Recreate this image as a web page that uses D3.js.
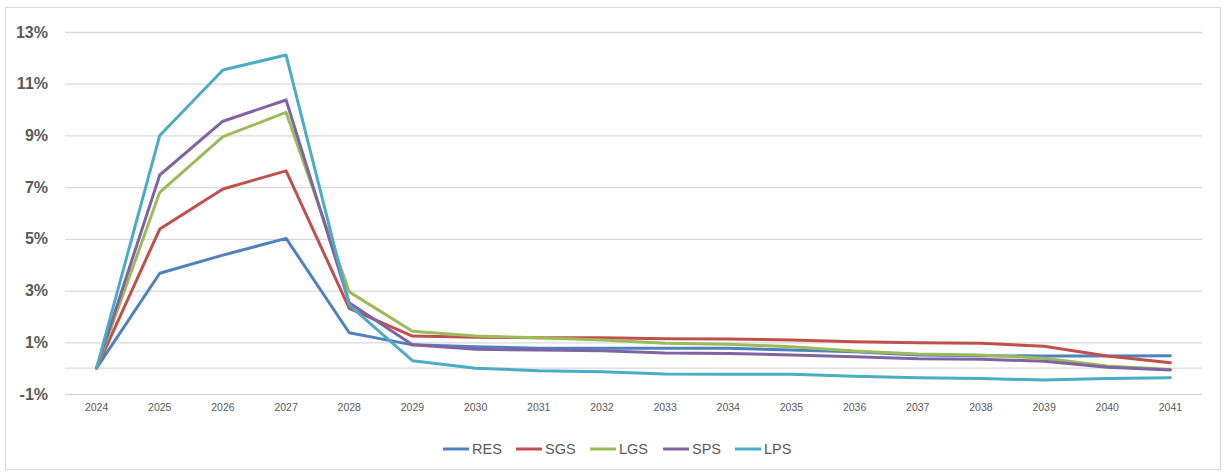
<!DOCTYPE html>
<html>
<head>
<meta charset="utf-8">
<script src="https://cdn.jsdelivr.net/npm/d3@7"></script>
<style>
  html, body { margin: 0; padding: 0; background: #fff; }
  svg { display: block; }
</style>
</head>
<body>
<svg id="chart" width="1226" height="472"></svg>
<script>
// Annual growth rates (%) by customer class
const years = ["2024","2025","2026","2027","2028","2029","2030","2031","2032","2033","2034","2035","2036","2037","2038","2039","2040","2041"];
const RES = [0, 3.67, 4.37, 5.02, 1.37, 0.90, 0.83, 0.77, 0.77, 0.77, 0.77, 0.70, 0.63, 0.51, 0.48, 0.47, 0.47, 0.48];
const SGS = [0, 5.38, 6.93, 7.63, 2.31, 1.24, 1.19, 1.18, 1.18, 1.14, 1.13, 1.09, 1.02, 0.98, 0.96, 0.85, 0.47, 0.21];
const LGS = [0, 6.80, 8.95, 9.89, 2.95, 1.43, 1.24, 1.18, 1.09, 0.96, 0.92, 0.83, 0.66, 0.55, 0.51, 0.38, 0.08, -0.05];
const SPS = [0, 7.47, 9.55, 10.37, 2.53, 0.90, 0.73, 0.70, 0.67, 0.59, 0.57, 0.51, 0.44, 0.36, 0.34, 0.27, 0.03, -0.07];
const LPS = [0, 9.00, 11.53, 12.11, 2.44, 0.29, 0.00, -0.10, -0.14, -0.23, -0.24, -0.24, -0.31, -0.37, -0.40, -0.46, -0.40, -0.37];
const seriesNames = ["RES","SGS","LGS","SPS","LPS"];
const yTicks = [-1, 1, 3, 5, 7, 9, 11, 13];

const series = [
  { name: "RES", values: RES, color: "#4F81BD" },
  { name: "SGS", values: SGS, color: "#C0504D" },
  { name: "LGS", values: LGS, color: "#9BBB59" },
  { name: "SPS", values: SPS, color: "#8064A2" },
  { name: "LPS", values: LPS, color: "#4BACC6" }
];

const svg = d3.select("#chart");
const W = 1226, H = 472;
const plot = { left: 65, right: 1202, top: 32, bottom: 394 };
const font = "'Liberation Sans', Arial, sans-serif";
const gridColor = "#d9d9d9";
const textColor = "#595959";

// chart-area frame
svg.append("rect")
  .attr("x", 5.5).attr("y", 7.5)
  .attr("width", W - 11).attr("height", H - 10)
  .attr("fill", "#fff").attr("stroke", gridColor).attr("stroke-width", 1);

const x = d3.scaleBand().domain(years).range([plot.left, plot.right]);
const y = d3.scaleLinear().domain([-1, 13]).range([plot.bottom, plot.top]);
const xc = d => x(d) + x.bandwidth() / 2;

// horizontal gridlines
const yAxis = d3.axisLeft(y).tickValues(yTicks).tickSize(-(plot.right - plot.left))
  .tickPadding(17).tickFormat(d => d + "%");
const gy = svg.append("g").attr("transform", `translate(${plot.left},0)`).call(yAxis);
gy.select(".domain").remove();
gy.selectAll(".tick line").attr("stroke", gridColor).attr("stroke-width", 1.3);
gy.selectAll(".tick text")
  .attr("fill", textColor)
  .style("font-family", font)
  .style("font-size", "16px")
  .style("font-weight", "bold");

// category axis line at 0%
svg.append("line")
  .attr("x1", plot.left).attr("x2", plot.right)
  .attr("y1", y(0)).attr("y2", y(0))
  .attr("stroke", gridColor).attr("stroke-width", 1.3);

// year labels along the bottom
const xAxis = d3.axisBottom(x).tickSize(0).tickPadding(10);
const gx = svg.append("g").attr("transform", `translate(0,${plot.bottom})`).call(xAxis);
gx.select(".domain").remove();
gx.selectAll(".tick text")
  .attr("fill", textColor)
  .style("font-family", font)
  .style("font-size", "10.5px");

// series lines
const line = d3.line()
  .x((d, i) => xc(years[i]))
  .y(d => y(d));

svg.append("g").selectAll("path")
  .data(series)
  .join("path")
  .attr("d", s => line(s.values))
  .attr("fill", "none")
  .attr("stroke", s => s.color)
  .attr("stroke-width", 3)
  .attr("stroke-linejoin", "round")
  .attr("stroke-linecap", "round");

// legend
const legendStarts = [443, 516, 590, 663, 735];
const lg = svg.append("g").selectAll("g")
  .data(series)
  .join("g")
  .attr("transform", (s, i) => `translate(${legendStarts[i]},449)`);
lg.append("line")
  .attr("x1", 0).attr("x2", 26).attr("y1", 0).attr("y2", 0)
  .attr("stroke", s => s.color).attr("stroke-width", 3);
lg.append("text")
  .attr("x", 29).attr("y", 0).attr("dy", "0.36em")
  .attr("fill", textColor)
  .style("font-family", font)
  .style("font-size", "14.5px")
  .text(s => s.name);
</script>
</body>
</html>
